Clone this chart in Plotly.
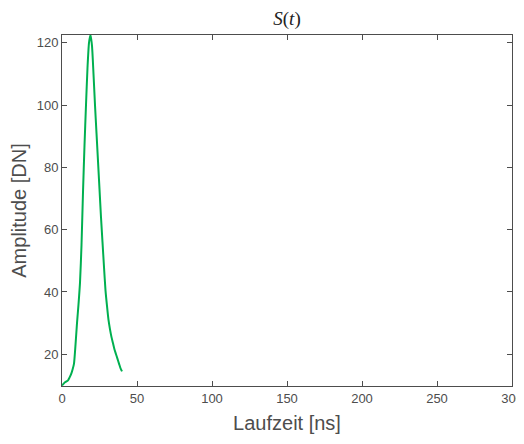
import plotly.graph_objects as go

time_ns = list(range(0, 41))
amplitude = [10.0, 10.5, 11.0, 11.3, 11.6, 12.5, 13.5, 15.0, 17.0, 23.0,
             30.0, 36.0, 43.0, 55.0, 72.0, 87.0, 100.0, 112.0, 120.0, 122.5,
             119.0, 110.0, 100.0, 91.0, 82.0, 73.0, 64.0, 56.0, 48.0, 40.5,
             35.5, 31.0, 28.0, 25.5, 23.5, 21.5, 20.0, 18.5, 17.0, 15.5, 14.5]

x_ticks = [0, 50, 100, 150, 200, 250, 300]
y_ticks = [20, 40, 60, 80, 100, 120]

fig = go.Figure()
fig.add_trace(go.Scatter(x=time_ns, y=amplitude, mode="lines",
                         line=dict(color="#00b050", width=2, shape="spline", smoothing=0.6),
                         showlegend=False))

axis_common = dict(
    showline=True, linecolor="#4d4d4d", linewidth=1, mirror="ticks",
    ticks="inside", ticklen=5, tickcolor="#4d4d4d", showgrid=False, zeroline=False,
    automargin=False,
    tickfont=dict(family="Liberation Sans, Arial", size=13, color="#4d4d4d"),
)

# page body has an 8px margin, so the figure is sized/offset to compensate
fig.update_layout(
    width=516, height=436,
    margin=dict(l=54, r=12, t=27, b=58),
    paper_bgcolor="white", plot_bgcolor="white",
    title=dict(text="<i>S</i>(<i>t</i>)", x=0.5, xanchor="center", y=0.977, yanchor="middle",
               xref="paper", automargin=False,
               font=dict(family="Liberation Serif, DejaVu Serif, serif", size=19, color="#222")),
    xaxis=dict(range=[0, 300], tickvals=x_ticks,
               title=dict(text="Laufzeit [ns]", standoff=11,
                          font=dict(family="Liberation Sans, Arial", size=20, color="#4d4d4d")),
               **axis_common),
    yaxis=dict(range=[9.8, 122.5], tickvals=y_ticks,
               title=dict(text="Amplitude [DN]", standoff=9,
                          font=dict(family="Liberation Sans, Arial", size=20, color="#4d4d4d")),
               **axis_common),
)

fig.write_html("out.html")
